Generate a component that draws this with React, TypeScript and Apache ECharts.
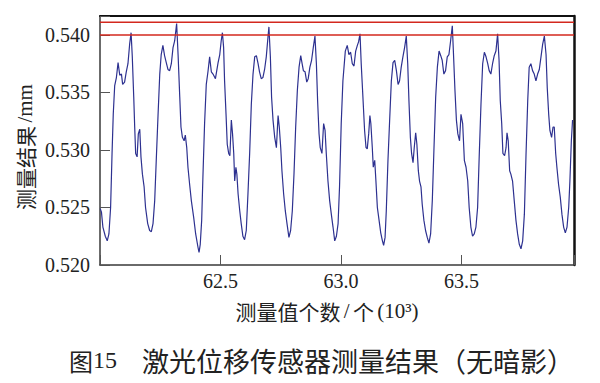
import React, { useEffect, useRef } from "react";
import * as echarts from "echarts";

// Sample positions (×10³) and measured displacement (mm)
const xs = [
  62.001, 62.006, 62.012, 62.022, 62.030, 62.037, 62.044, 62.050, 62.055, 62.061, 62.068,
  62.075, 62.082, 62.089, 62.094, 62.102, 62.109, 62.116, 62.123, 62.129, 62.134,
  62.140, 62.144, 62.148, 62.154, 62.159, 62.165, 62.170, 62.176, 62.183, 62.189,
  62.198, 62.206, 62.213, 62.220, 62.227, 62.234, 62.241, 62.248, 62.254, 62.261,
  62.268, 62.275, 62.282, 62.289, 62.296, 62.303, 62.310, 62.318, 62.324, 62.331,
  62.336, 62.342, 62.349, 62.354, 62.360, 62.365, 62.372, 62.379, 62.389, 62.397,
  62.407, 62.411, 62.416, 62.422, 62.427, 62.434, 62.441, 62.448, 62.455, 62.462,
  62.469, 62.479, 62.490, 62.497, 62.503, 62.508, 62.513, 62.517, 62.523, 62.528,
  62.534, 62.539, 62.545, 62.550, 62.555, 62.559, 62.564, 62.568, 62.573, 62.580,
  62.586, 62.593, 62.600, 62.607, 62.614, 62.621, 62.628, 62.635, 62.642, 62.649,
  62.656, 62.662, 62.669, 62.676, 62.683, 62.690, 62.697, 62.701, 62.707, 62.712,
  62.718, 62.725, 62.732, 62.739, 62.744, 62.750, 62.755, 62.762, 62.769, 62.776,
  62.784, 62.791, 62.798, 62.805, 62.812, 62.819, 62.826, 62.833, 62.838, 62.844,
  62.851, 62.858, 62.864, 62.871, 62.878, 62.885, 62.892, 62.898, 62.903, 62.909,
  62.914, 62.921, 62.928, 62.934, 62.939, 62.946, 62.953, 62.960, 62.967, 62.974,
  62.981, 62.988, 62.994, 63.001, 63.008, 63.018, 63.026, 63.033, 63.040, 63.047,
  63.054, 63.061, 63.068, 63.073, 63.079, 63.084, 63.091, 63.098, 63.104, 63.109,
  63.115, 63.120, 63.124, 63.130, 63.134, 63.140, 63.145, 63.151, 63.158, 63.165,
  63.172, 63.177, 63.183, 63.188, 63.195, 63.202, 63.209, 63.216, 63.223, 63.230,
  63.237, 63.243, 63.250, 63.257, 63.264, 63.271, 63.277, 63.282, 63.288, 63.293,
  63.299, 63.304, 63.310, 63.315, 63.321, 63.326, 63.332, 63.337, 63.344, 63.351,
  63.358, 63.365, 63.372, 63.379, 63.386, 63.393, 63.400, 63.407, 63.414, 63.420,
  63.427, 63.434, 63.441, 63.448, 63.455, 63.462, 63.467, 63.473, 63.479, 63.485,
  63.492, 63.498, 63.505, 63.512, 63.519, 63.526, 63.532, 63.539, 63.546, 63.553,
  63.560, 63.567, 63.574, 63.581, 63.588, 63.595, 63.602, 63.609, 63.615, 63.622,
  63.629, 63.636, 63.643, 63.650, 63.656, 63.661, 63.667, 63.672, 63.679, 63.685,
  63.689, 63.694, 63.700, 63.705, 63.712, 63.719, 63.726, 63.733, 63.740, 63.747,
  63.754, 63.761, 63.768, 63.775, 63.781, 63.788, 63.795, 63.802, 63.809, 63.816,
  63.823, 63.830, 63.837, 63.844, 63.851, 63.856, 63.862, 63.867, 63.874, 63.880,
  63.885, 63.891, 63.896, 63.903, 63.910, 63.917, 63.924, 63.931, 63.938, 63.945,
  63.950, 63.956, 63.961,
];

const ys = [
  0.5249, 0.5246, 0.5233, 0.5225, 0.5221, 0.5227, 0.5250, 0.5297, 0.5331, 0.5356, 0.5363,
  0.5376, 0.5365, 0.5366, 0.5357, 0.5359, 0.5368, 0.5375, 0.5392, 0.5402, 0.5381,
  0.5346, 0.5320, 0.5297, 0.5294, 0.5314, 0.5318, 0.5294, 0.5279, 0.5268, 0.5250,
  0.5236, 0.5230, 0.5229, 0.5236, 0.5256, 0.5294, 0.5331, 0.5366, 0.5383, 0.5391,
  0.5382, 0.5376, 0.5370, 0.5369, 0.5375, 0.5389, 0.5395, 0.5410, 0.5383, 0.5346,
  0.5320, 0.5311, 0.5308, 0.5313, 0.5302, 0.5285, 0.5270, 0.5256, 0.5241, 0.5227,
  0.5215, 0.5211, 0.5218, 0.5239, 0.5276, 0.5323, 0.5357, 0.5368, 0.5381, 0.5368,
  0.5366, 0.5362, 0.5376, 0.5383, 0.5395, 0.5402, 0.5389, 0.5360, 0.5331, 0.5305,
  0.5297, 0.5295, 0.5326, 0.5314, 0.5297, 0.5273, 0.5285, 0.5279, 0.5262, 0.5247,
  0.5236, 0.5225, 0.5222, 0.5230, 0.5262, 0.5297, 0.5340, 0.5366, 0.5381, 0.5382,
  0.5375, 0.5368, 0.5362, 0.5363, 0.5370, 0.5381, 0.5398, 0.5407, 0.5381, 0.5346,
  0.5326, 0.5311, 0.5302, 0.5330, 0.5320, 0.5302, 0.5282, 0.5262, 0.5247, 0.5236,
  0.5224, 0.5230, 0.5247, 0.5279, 0.5320, 0.5352, 0.5372, 0.5382, 0.5376, 0.5369,
  0.5368, 0.5359, 0.5362, 0.5372, 0.5378, 0.5389, 0.5399, 0.5375, 0.5343, 0.5314,
  0.5302, 0.5297, 0.5323, 0.5317, 0.5297, 0.5273, 0.5256, 0.5244, 0.5233, 0.5221,
  0.5225, 0.5236, 0.5268, 0.5323, 0.5360, 0.5386, 0.5391, 0.5383, 0.5385, 0.5375,
  0.5373, 0.5386, 0.5391, 0.5394, 0.5401, 0.5375, 0.5346, 0.5317, 0.5302, 0.5301,
  0.5314, 0.5330, 0.5323, 0.5302, 0.5285, 0.5291, 0.5273, 0.5250, 0.5239, 0.5228,
  0.5221, 0.5217, 0.5224, 0.5247, 0.5291, 0.5326, 0.5360, 0.5376, 0.5378, 0.5369,
  0.5357, 0.5360, 0.5372, 0.5381, 0.5389, 0.5399, 0.5375, 0.5343, 0.5311, 0.5297,
  0.5289, 0.5302, 0.5315, 0.5305, 0.5282, 0.5273, 0.5268, 0.5253, 0.5239, 0.5230,
  0.5224, 0.5219, 0.5227, 0.5256, 0.5302, 0.5346, 0.5372, 0.5386, 0.5382, 0.5378,
  0.5366, 0.5369, 0.5381, 0.5383, 0.5395, 0.5408, 0.5383, 0.5352, 0.5326, 0.5314,
  0.5308, 0.5331, 0.5323, 0.5291, 0.5285, 0.5273, 0.5250, 0.5233, 0.5225, 0.5227,
  0.5233, 0.5250, 0.5297, 0.5340, 0.5375, 0.5385, 0.5381, 0.5375, 0.5369, 0.5366,
  0.5375, 0.5382, 0.5386, 0.5401, 0.5378, 0.5343, 0.5323, 0.5297, 0.5295, 0.5302,
  0.5315, 0.5308, 0.5282, 0.5279, 0.5273, 0.5256, 0.5239, 0.5227, 0.5218, 0.5214,
  0.5221, 0.5244, 0.5297, 0.5343, 0.5372, 0.5375, 0.5369, 0.5366, 0.5360, 0.5366,
  0.5370, 0.5381, 0.5392, 0.5399, 0.5383, 0.5354, 0.5331, 0.5317, 0.5311, 0.5320,
  0.5320, 0.5297, 0.5285, 0.5270, 0.5259, 0.5244, 0.5233, 0.5228, 0.5233, 0.5250,
  0.5273, 0.5308, 0.5326,
];

const limitLines = [0.54, 0.5411];
const xTickLabels = [62.5, 63.0, 63.5];
const yTickLabels = [0.52, 0.525, 0.53, 0.535, 0.54];

const yAxisTitle = "测量结果";
const yAxisUnit = "/mm";
const xAxisTitle = "测量值个数";
const xAxisUnit = "个";
const figureNo = "15";
const caption = "激光位移传感器测量结果（无暗影）";

const SERIF = '"Liberation Serif", "DejaVu Serif", serif';
const CJK = '"Noto Sans CJK SC", sans-serif';

export default function App() {
  const ref = useRef<HTMLDivElement>(null);

  useEffect(() => {
    document.body.style.margin = "0";
    const chart = echarts.init(ref.current!, null, { renderer: "svg" });
    const data = xs.map((x, i) => [x, ys[i]]);
    const near = (arr: number[], v: number) => arr.some((t) => Math.abs(t - v) < 1e-6);
    const X_MIN = 62.0;
    const X_MAX = 63.967;

    chart.setOption({
      animation: false,
      backgroundColor: "#ffffff",
      grid: { left: 100, right: 26, top: 16, bottom: 118, containLabel: false },
      xAxis: [
        {
          type: "value",
          min: X_MIN,
          max: X_MAX,
          interval: 0.5,
          axisLine: { show: true, lineStyle: { color: "#3a3a3a", width: 1.5 } },
          axisTick: { show: true, inside: true, length: 10, lineStyle: { color: "#555", width: 1 } },
          axisLabel: {
            formatter: (v: number) => (near(xTickLabels, v) ? v.toFixed(1) : ""),
            fontFamily: SERIF,
            fontSize: 20,
            color: "#222",
            margin: 6,
          },
          splitLine: { show: false },
        },
        {
          type: "value",
          position: "top",
          min: X_MIN,
          max: X_MAX,
          axisLine: { show: true, onZero: false, lineStyle: { color: "#111", width: 2 } },
          axisTick: { show: false },
          axisLabel: { show: false },
          splitLine: { show: false },
        },
      ],
      yAxis: [
        {
          type: "value",
          min: 0.52,
          max: 0.54165,
          interval: 0.005,
          axisLine: { show: true, lineStyle: { color: "#3a3a3a", width: 1.5 } },
          axisTick: { show: true, inside: true, length: 10, lineStyle: { color: "#555", width: 1 } },
          axisLabel: {
            formatter: (v: number) => (near(yTickLabels, v) ? v.toFixed(3) : ""),
            fontFamily: SERIF,
            fontSize: 20,
            color: "#222",
            margin: 10,
          },
          splitLine: { show: false },
        },
        {
          type: "value",
          position: "right",
          min: 0.52,
          max: 0.54165,
          axisLine: { show: true, onZero: false, lineStyle: { color: "#111", width: 2.5 } },
          axisTick: { show: false },
          axisLabel: { show: false },
          splitLine: { show: false },
        },
      ],
      series: [
        ...limitLines.map((v) => ({
          type: "line",
          data: [
            [X_MIN, v],
            [X_MAX, v],
          ],
          xAxisIndex: 0,
          yAxisIndex: 0,
          symbol: "none",
          showSymbol: false,
          silent: true,
          z: 3,
          lineStyle: { color: "#d3281e", width: 1.5 },
        })),
        {
          type: "line",
          data,
          xAxisIndex: 0,
          yAxisIndex: 0,
          symbol: "none",
          showSymbol: false,
          z: 2,
          lineStyle: { color: "#2d3190", width: 1.2 },
        },
      ],
      graphic: [
        {
          type: "text",
          x: 25,
          y: 147,
          rotation: Math.PI / 2,
          style: {
            text: `{a|${yAxisTitle}} {b|${yAxisUnit}}`,
            align: "center",
            verticalAlign: "middle",
            rich: {
              a: { fontFamily: CJK, fontSize: 21, fill: "#222" },
              b: { fontFamily: SERIF, fontSize: 21, fill: "#222" },
            },
          },
        },
        {
          type: "text",
          x: 327,
          y: 311,
          style: {
            text: `{a|${xAxisTitle}} {b|/} {a|${xAxisUnit}} {b|(10³)}`,
            align: "center",
            verticalAlign: "middle",
            rich: {
              a: { fontFamily: CJK, fontSize: 21, fill: "#222" },
              b: { fontFamily: SERIF, fontSize: 21, fill: "#222" },
            },
          },
        },
        {
          type: "text",
          x: 117,
          y: 360,
          style: {
            text: `{a|图}{b|${figureNo}}`,
            align: "right",
            verticalAlign: "middle",
            rich: {
              a: { fontFamily: CJK, fontSize: 24, fill: "#222" },
              b: { fontFamily: SERIF, fontSize: 24, fill: "#222" },
            },
          },
        },
        {
          type: "text",
          x: 142,
          y: 360,
          style: {
            text: caption,
            align: "left",
            verticalAlign: "middle",
            font: `27px ${CJK}`,
            fill: "#222",
          },
        },
      ],
    });

    return () => chart.dispose();
  }, []);

  return <div ref={ref} style={{ width: 600, height: 383 }} />;
}
